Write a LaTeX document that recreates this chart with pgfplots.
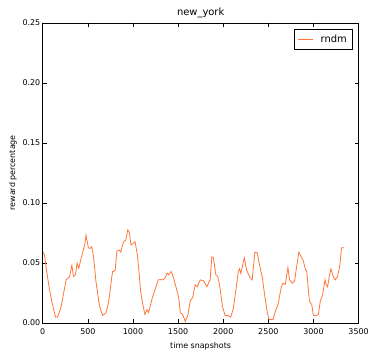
\documentclass[border=0pt]{standalone}
\usepackage{pgfplots}
\pgfplotsset{compat=1.18}
\usepackage{fontspec}
\setmainfont{DejaVu Sans}
\definecolor{rndmc}{RGB}{255,117,56}
\begin{document}
\begin{tikzpicture}
\begin{axis}[
  scale only axis,
  width=318pt, height=302pt,
  xmin=0, xmax=3500, ymin=0, ymax=0.25,
  xtick={0,500,...,3500},
  ytick={0,0.05,0.10,0.15,0.20,0.25},
  xticklabel style={yshift=-2pt, /pgf/number format/1000 sep={}},
  yticklabel style={xshift=1pt, /pgf/number format/.cd,fixed,fixed zerofill,precision=2},
  /pgf/number format/assume math mode=true,
  scaled y ticks=false,
  tick label style={font=\fontsize{8}{9}\selectfont},
  label style={font=\fontsize{8}{9}\selectfont},
  title style={font=\fontsize{10}{11}\selectfont, yshift=-4pt},
  title={new\_york},
  xlabel={time snapshots},
  ylabel={reward percentage},
  xlabel style={inner sep=0pt, yshift=-4.3pt},
  ylabel style={yshift=-1pt},
  major tick length=4pt,
  tick style={black, line width=0.5pt},
  axis line style={line width=0.6pt},
  legend style={at={(1,1)}, xshift=-6pt, yshift=-6pt, anchor=north east, draw=black, line width=0.5pt,
    font=\fontsize{10}{11}\selectfont, inner sep=2pt, row sep=0pt,
    nodes={inner sep=3.5pt}},
  legend cell align=left,
  legend image code/.code={\path (0pt,0pt) (20pt,0pt); \draw[#1] (1pt,0pt) -- (16pt,0pt);},
]
\addplot[color=rndmc, line width=0.8pt] coordinates {
(3,0.0593) (20,0.0565) (40,0.045) (70,0.030) (100,0.018) (125,0.010) (143,0.0047) (165,0.005)
(185,0.009) (205,0.0138) (230,0.024) (260,0.036) (280,0.037) (297,0.0386) (323,0.048)
(341,0.0386) (363,0.040) (381,0.0497) (400,0.0455) (420,0.052) (444,0.059) (465,0.065)
(480,0.073) (506,0.0626) (525,0.062) (543,0.0635) (561,0.0566) (590,0.0345) (610,0.024)
(627,0.015) (645,0.010) (664,0.0063) (680,0.007) (700,0.0083) (720,0.014) (737,0.0207)
(755,0.032) (774,0.0428) (790,0.043) (803,0.044) (821,0.0593) (847,0.0607) (865,0.059)
(885,0.065) (902,0.068) (920,0.0688) (942,0.0773) (957,0.076) (979,0.0648) (1000,0.066)
(1023,0.0676) (1049,0.0566) (1070,0.040) (1085,0.026) (1110,0.015) (1133,0.0069)
(1155,0.011) (1173,0.0086) (1195,0.015) (1214,0.0207) (1250,0.029) (1280,0.0358)
(1310,0.036) (1331,0.0358) (1353,0.037) (1379,0.0414) (1397,0.040) (1423,0.0428)
(1445,0.0386) (1470,0.0317) (1490,0.026) (1507,0.021) (1525,0.0083) (1551,0.007)
(1580,0.001) (1610,0.007) (1635,0.0185) (1661,0.021) (1690,0.0317) (1712,0.030)
(1745,0.0358) (1782,0.035) (1819,0.030) (1837,0.0331) (1855,0.0358) (1874,0.055)
(1892,0.054) (1918,0.040) (1940,0.0386) (1965,0.029) (1991,0.0138) (2020,0.0063)
(2057,0.006) (2083,0.0047) (2112,0.012) (2138,0.026) (2167,0.0428) (2182,0.045)
(2196,0.041) (2233,0.0543) (2259,0.044) (2296,0.0378) (2321,0.0358) (2351,0.0588)
(2376,0.0585) (2406,0.047) (2435,0.0372) (2461,0.022) (2490,0.0083) (2508,0.0028)
(2553,0.0028) (2578,0.0097) (2607,0.0152) (2644,0.030) (2662,0.0331) (2688,0.032)
(2717,0.046) (2735,0.0358) (2765,0.0331) (2790,0.0345) (2816,0.048) (2838,0.0588)
(2864,0.055) (2886,0.052) (2908,0.0455) (2926,0.0428) (2955,0.018) (2981,0.0152)
(2999,0.0063) (3028,0.006) (3054,0.007) (3076,0.018) (3102,0.0235) (3128,0.0358)
(3140,0.032) (3157,0.030) (3175,0.0386) (3194,0.045) (3219,0.0386) (3241,0.0358)
(3267,0.0386) (3293,0.048) (3311,0.0626) (3341,0.0626)
};
\addlegendentry{rndm}
\end{axis}
\path ([xshift=-43pt,yshift=-28pt]current axis.south west) ([xshift=11pt,yshift=23pt]current axis.north east);
\end{tikzpicture}
\end{document}
